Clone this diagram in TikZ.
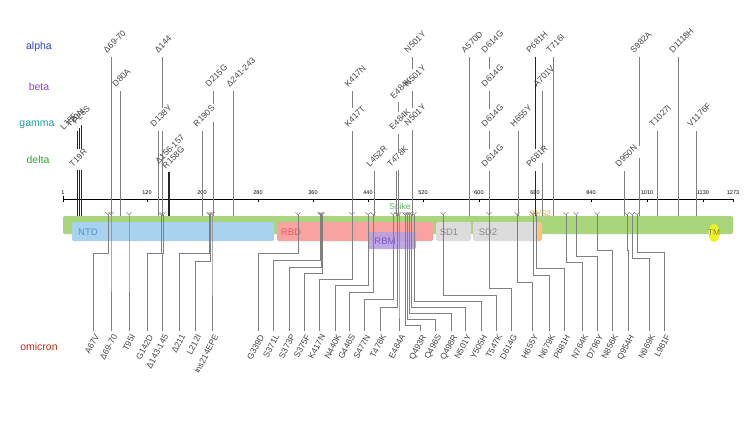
\documentclass[tikz,border=0pt]{standalone}
\usepackage{fontspec}
\setmainfont{Liberation Sans}
\usetikzlibrary{arrows.meta,shapes.geometric}
\definecolor{alphac}{HTML}{2A3FD0}
\definecolor{betac}{HTML}{9A3FD0}
\definecolor{gammac}{HTML}{1E9EA0}
\definecolor{deltac}{HTML}{2EAA2E}
\definecolor{omic}{HTML}{CC2A10}
\definecolor{spikeg}{HTML}{A9D67C}
\definecolor{spiket}{HTML}{5CB85C}
\definecolor{ntdc}{HTML}{A8D2EE}
\definecolor{ntdt}{HTML}{4E93D0}
\definecolor{rbdc}{HTML}{F8A2A2}
\definecolor{rbdt}{HTML}{EE5A5A}
\definecolor{rbmc}{HTML}{B9A0E2}
\definecolor{rbmt}{HTML}{7B5BC2}
\definecolor{sdc}{HTML}{DCDCDC}
\definecolor{sdt}{HTML}{8A8A8A}
\definecolor{orc}{HTML}{FAC27E}
\definecolor{ort}{HTML}{F0A030}
\definecolor{tmc}{HTML}{F2F21E}
\definecolor{tmt}{HTML}{8A8A40}
\definecolor{linec}{HTML}{808080}
\definecolor{labc}{HTML}{454545}
\begin{document}
\begin{tikzpicture}[x=1pt,y=-1pt,
  vline/.style={draw=linec,line width=0.7pt},
  dline/.style={draw=black!85,line width=0.8pt},
  toplab/.style={rotate=45,anchor=south west,inner sep=0.4pt,text=labc,font=\fontsize{8.5}{9}\selectfont},
  omlab/.style={rotate=62,anchor=north east,inner sep=0.4pt,text=labc,font=\fontsize{8.5}{9}\selectfont},
  omline/.style={draw=linec,line width=0.6pt,{Straight Barb[reversed,length=2.5pt,width=5pt]}-},
  varname/.style={font=\fontsize{10.5}{12}\selectfont},
  ticklab/.style={font=\fontsize{5.5}{6}\selectfont,inner sep=0.5pt},
  dombox/.style={rounded corners=2pt},
  domtext/.style={font=\fontsize{9.5}{10}\selectfont,inner sep=0pt}]
\useasboundingbox (0,0) rectangle (754,424);
\fill[white] (0,0) rectangle (754,424);

% variant names
\node[varname,text=alphac] (valpha) at (39,47) {alpha};
\node[varname,text=betac] (vbeta) at (39,87) {beta};
\node[varname,text=gammac] (vgamma) at (37,125) {gamma};
\node[varname,text=deltac] (vdelta) at (38,160) {delta};
\node[varname,text=omic] (vomicron) at (39,347) {omicron};

% axis
\coordinate (axL) at (63,199);
\coordinate (axR) at (733,199);
\draw[black,line width=0.6pt] (axL) -- (axR);
\foreach \x/\lab [count=\i] in {63/1,147/120,202/200,258/280,313/360,368/440,423/520,479/600,535/680,591/840,647/1010,703/1130,733/1273}{
  \coordinate (tk\i) at (\x,202);
  \draw[black,line width=0.6pt] (\x,199) -- (tk\i);
  \node[ticklab] (tl\i) at (\x,193) {\lab};
}
\draw[black,line width=0.6pt] (63,196) -- (63,202);

% spike bar and domains
\fill[spikeg,dombox] (63,216) rectangle (733,234);
\fill[ntdc,dombox] (72,222) rectangle (274,241);
\fill[rbdc,dombox] (277,222) rectangle (433,241);
\fill[sdc,dombox] (436,222) rectangle (471,241);
\fill[orc,dombox] (528,222) rectangle (542,241);
\fill[sdc,dombox] (473,222) rectangle (537,241);
\fill[rbmc,dombox,opacity=0.9] (368,232) rectangle (416,249);
\node[ellipse,fill=tmc,minimum width=11pt,minimum height=18pt,inner sep=0pt] (tm) at (714,233) {};
\node[domtext,text=ntdt] (ntd) at (88,232) {NTD};
\node[domtext,text=rbdt] (rbd) at (291,232) {RBD};
\node[domtext,text=rbmt] (rbm) at (385,241) {RBM};
\node[domtext,text=sdt] (sd1) at (449,232) {SD1};
\node[domtext,text=sdt] (sd2) at (488,232) {SD2};
\node[domtext,text=tmt,font=\fontsize{8.5}{9}\selectfont] (tmtext) at (714,233) {TM};
\node[text=spiket,inner sep=0pt,font=\fontsize{8.5}{9}\selectfont] (spike) at (400,207) {Spike};
\node[text=ort,inner sep=0pt,font=\fontsize{8}{9}\selectfont] (s1s2) at (540,214) {S1/S2};

% ---------- top variant mutation lines ----------
\draw[dline] (77,131) -- (77,149) (77,170) -- (77,216);
\draw[dline] (79,128) -- (79,149) (79,170) -- (79,216);
\draw[dline] (81,125) -- (81,149) (81,170) -- (81,216);
\draw[vline] (111,57) -- (111,216);
\draw[vline] (120,91) -- (120,216);
\draw[vline] (162,57) -- (162,108) (162,131) -- (162,216);
\draw[vline] (158,131) -- (158,216);
\draw[dline,line width=1.1pt] (169,172) -- (169,216);
\draw[vline] (202,131) -- (202,216);
\draw[vline] (213,91) -- (213,104) (213,122) -- (213,216);
\draw[vline] (233,91) -- (233,216);
\draw[vline] (352,91) -- (352,108) (352,131) -- (352,216);
\draw[vline] (374,171) -- (374,216);
\draw[vline] (396,171) -- (396,216);
\draw[vline] (398,102) -- (398,112) (398,134) -- (398,150) (398,170) -- (398,216);
\draw[vline] (412,57) -- (412,69) (412,91) -- (412,108) (412,130) -- (412,216);
\draw[vline] (469,57) -- (469,216);
\draw[vline] (489,57) -- (489,69) (489,91) -- (489,109) (489,131) -- (489,149) (489,171) -- (489,216);
\draw[vline] (518,131) -- (518,216);
\draw[dline] (535,57) -- (535,149) (535,171) -- (535,216);
\draw[vline] (542,91) -- (542,150) (542,163) -- (542,216);
\draw[vline] (553,57) -- (553,216);
\draw[vline] (624,171) -- (624,216);
\draw[vline] (639,57) -- (639,146) (639,158) -- (639,216);
\draw[vline] (657,131) -- (657,216);
\draw[vline] (678,57) -- (678,216);
\draw[vline] (696,131) -- (696,216);

% top labels
\node[toplab] (gL18F) at (64,131) {L18F};
\node[toplab] (gT20N) at (70,128) {T20N};
\node[toplab] (gP26S) at (76,125) {P26S};
\node[toplab] (dT19R) at (73,168) {T19R};
\node[toplab] (a6970) at (107,54) {Δ69-70};
\node[toplab] (bD80A) at (116,88) {D80A};
\node[toplab] (a144) at (158,54) {Δ144};
\node[toplab] (gD138Y) at (154,128) {D138Y};
\node[toplab] (d156) at (159,165) {Δ156-157};
\node[toplab] (dR158G) at (166,170) {R158G};
\node[toplab] (gR190S) at (197,128) {R190S};
\node[toplab] (bD215G) at (209,88) {D215G};
\node[toplab] (b241) at (230,88) {Δ241-243};
\node[toplab] (bK417N) at (348,88) {K417N};
\node[toplab] (gK417T) at (348,128) {K417T};
\node[toplab] (dL452R) at (370,168) {L452R};
\node[toplab] (dT478K) at (391,168) {T478K};
\node[toplab] (bE484K) at (394,100) {E484K};
\node[toplab] (gE484K) at (393,131) {E484K};
\node[toplab] (aN501Y) at (408,54) {N501Y};
\node[toplab] (bN501Y) at (408,88) {N501Y};
\node[toplab] (gN501Y) at (408,127) {N501Y};
\node[toplab] (aA570D) at (465,54) {A570D};
\node[toplab] (aD614G) at (485,54) {D614G};
\node[toplab] (bD614G) at (485,88) {D614G};
\node[toplab] (gD614G) at (485,128) {D614G};
\node[toplab] (dD614G) at (485,168) {D614G};
\node[toplab] (gH655Y) at (514,128) {H655Y};
\node[toplab] (aP681H) at (530,54) {P681H};
\node[toplab] (dP681R) at (530,168) {P681R};
\node[toplab] (bA701V) at (537,88) {A701V};
\node[toplab] (aT716I) at (550,54) {T716I};
\node[toplab] (dD950N) at (619,168) {D950N};
\node[toplab] (aS982A) at (634,54) {S982A};
\node[toplab] (gT1027I) at (653,128) {T1027I};
\node[toplab] (aD1118H) at (673,54) {D1118H};
\node[toplab] (gV1176F) at (691,128) {V1176F};

% ---------- omicron lines and labels ----------
\foreach \b/\t/\l/\s [count=\i] in {
 108/253/93/A67V, 111/253/111/Δ69-70, 129/253/129/T95I, 161/253/147/G142D,
 163/253/162/Δ143-145, 209/253/179/Δ211, 210/261/195/L212I, 212/261/212/ins214EPE,
 298/253/258/G339D, 320/260/273/S371L, 321/267/289/S373P, 322/273/304/S375F,
 352/279/319/K417N, 368/285/335/N440K, 373/292/349/G446S, 393/299/364/S477N,
 397/307/380/T478K, 399/307/399/E484A, 405/325/420/Q493R, 407/319/435/Q496S,
 409/313/451/Q498R, 411/307/465/N501Y, 414/301/481/Y505H, 443/295/496/T547K,
 489/288/511/D614G, 517/282/532/H655Y, 533/275/549/N679K, 536/268/564/P681H,
 566/262/582/N764K, 576/256/597/D796Y, 597/250/612/N856K, 627/250/628/Q954H,
 632/258/649/N969K, 637/252/664/L981F}{
  \coordinate (ob\i) at (\b,212);
  \coordinate (oe\i) at (\l,331);
  \node[omlab] (om\i) at (\l+1,333) {\s};
  \draw[omline] (ob\i) -- (\b,\t) -- (\l,\t) -- (oe\i);
}
\end{tikzpicture}
\end{document}
